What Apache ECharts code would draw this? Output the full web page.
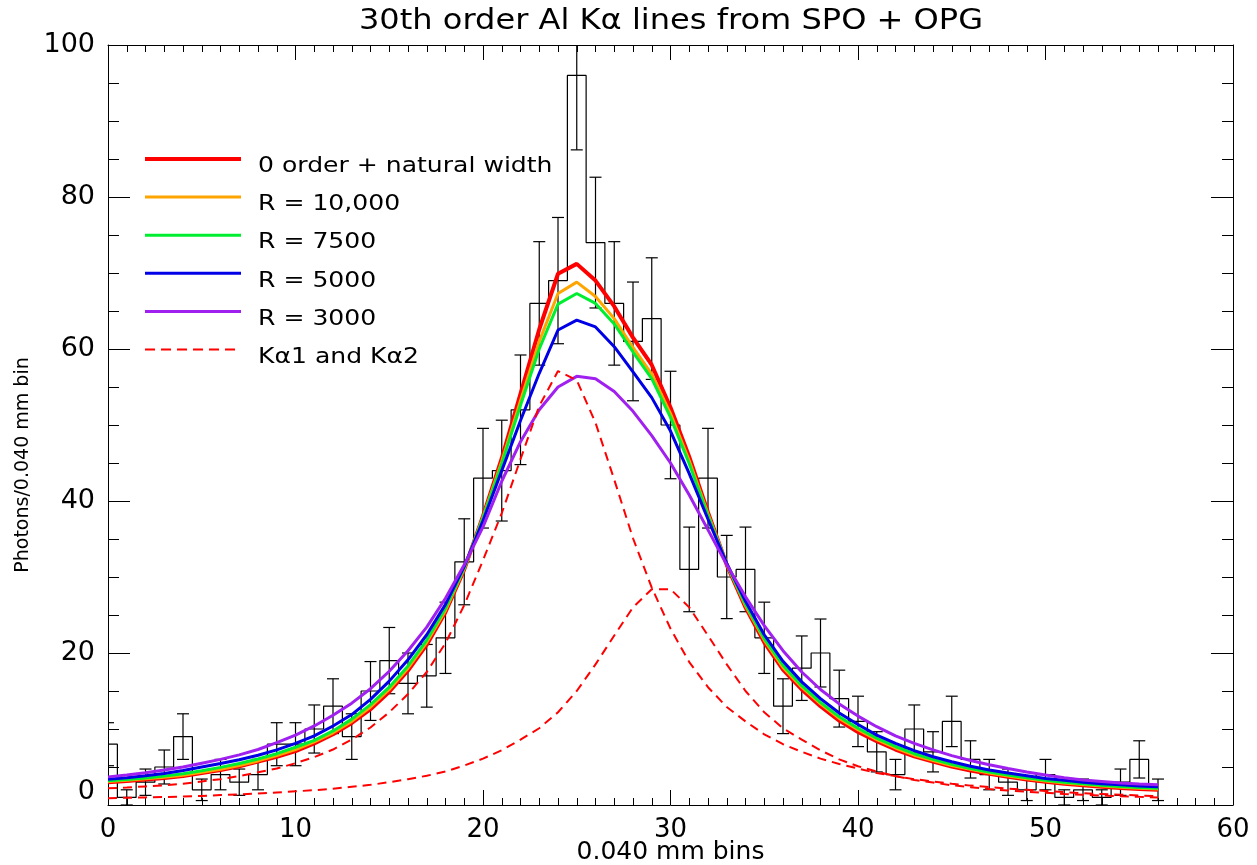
<!DOCTYPE html>
<html><head><meta charset="utf-8">
<script src="https://cdn.jsdelivr.net/npm/echarts@6/dist/echarts.min.js"></script>
<style>html,body{margin:0;padding:0;background:#fff}#c{width:1257px;height:865px}</style>
</head><body><div id="c"></div>
<script>
// ---- data ----
const bins = [0,1,2,3,4,5,6,7,8,9,10,11,12,13,14,15,16,17,18,19,20,21,22,23,24,25,26,27,28,29,30,31,32,33,34,35,36,37,38,39,40,41,42,43,44,45,46,47,48,49,50,51,52,53,54,55,56];
const counts = [8,1,3,5,9,2,4,3,4,8,8,10,13,9,15,19,16,17,22,32,43,44,52,66,69,96,74,66,61,64,50,31,43,30,31,22,13,18,20,14,11,7,4,10,7,11,6,4,3,2,4,1,2,1,3,6,2];
const zeroOrder = [3.0,3.15,3.35,3.55,3.8,4.2,4.6,5.1,5.7,6.35,7.1,8.1,9.3,10.8,12.6,14.9,17.7,21.1,25.4,31.0,38.0,45.6,54.1,62.6,69.9,71.2,69.0,65.6,61.5,57.9,52.3,45.8,38.5,31.6,26.0,21.4,17.8,15.2,13.0,11.1,9.6,8.4,7.3,6.4,5.7,5.05,4.55,4.1,3.7,3.35,3.05,2.8,2.6,2.4,2.25,2.1,2.0];
const r10000 = [3.1,3.25,3.45,3.65,3.9,4.3,4.7,5.2,5.8,6.5,7.3,8.3,9.5,11.0,12.9,15.2,18.0,21.4,25.6,31.1,37.9,45.2,53.2,61.0,67.3,68.8,66.9,64.0,60.2,56.7,51.5,45.3,38.3,31.7,26.2,21.7,18.1,15.5,13.3,11.4,9.9,8.6,7.5,6.55,5.85,5.2,4.7,4.2,3.8,3.45,3.15,2.9,2.7,2.5,2.35,2.2,2.1];
const r7500 = [3.2,3.35,3.55,3.8,4.1,4.5,4.95,5.45,6.05,6.75,7.6,8.5,9.75,11.3,13.2,15.5,18.3,21.7,25.9,31.2,37.8,44.9,52.6,60.0,65.9,67.3,66.0,63.3,59.6,56.1,51.0,44.9,38.1,31.7,26.4,21.9,18.4,15.7,13.5,11.6,10.1,8.8,7.7,6.75,6.0,5.35,4.8,4.35,3.95,3.6,3.25,3.0,2.8,2.6,2.45,2.3,2.2];
const r5000 = [3.4,3.6,3.85,4.15,4.55,5.0,5.45,5.95,6.55,7.25,8.1,9.1,10.4,11.9,13.9,16.3,19.1,22.4,26.4,31.4,37.4,44.0,50.6,56.8,62.5,63.8,62.9,60.3,57.0,53.6,49.2,43.6,37.6,31.8,26.8,22.4,18.9,16.2,14.0,12.1,10.6,9.2,8.1,7.15,6.35,5.7,5.1,4.6,4.2,3.85,3.5,3.25,3.0,2.8,2.65,2.5,2.4];
const r3000 = [3.7,3.95,4.25,4.6,5.0,5.5,6.0,6.6,7.3,8.2,9.2,10.4,11.8,13.4,15.3,17.6,20.3,23.4,27.2,31.6,36.6,42.6,47.8,52.0,55.0,56.4,56.1,54.4,51.8,48.6,45.0,40.8,36.2,31.6,27.4,23.6,20.3,17.5,15.2,13.3,11.7,10.3,9.1,8.1,7.25,6.5,5.85,5.3,4.8,4.35,3.95,3.6,3.3,3.1,2.9,2.75,2.65];
const ka1 = [2.2,2.3,2.45,2.6,2.8,3.1,3.4,3.8,4.3,4.8,5.5,6.3,7.3,8.6,10.2,12.2,14.6,17.5,21.3,26.3,32.2,38.4,45.5,52.5,57.1,55.9,50.3,42.8,35.1,28.6,23.2,18.8,15.5,12.9,11.0,9.3,8.0,7.0,6.1,5.4,4.8,4.2,3.8,3.4,3.1,2.8,2.55,2.35,2.15,2.0,1.85,1.7,1.55,1.45,1.35,1.25,1.15];
const ka2 = [0.9,0.95,1.0,1.05,1.12,1.2,1.3,1.4,1.5,1.65,1.8,1.95,2.15,2.4,2.65,3.0,3.4,3.85,4.4,5.2,6.1,7.2,8.6,10.1,12.2,15.0,18.5,22.3,26.0,28.4,28.4,26.0,22.3,18.5,15.0,12.2,10.1,8.6,7.2,6.0,5.1,4.4,3.8,3.3,2.95,2.6,2.35,2.1,1.9,1.75,1.6,1.45,1.35,1.25,1.15,1.07,1.0];
const xTicks = [0,10,20,30,40,50,60];
const yTicks = [0,20,40,60,80,100];
const titleText = '30th order Al K\u03b1 lines from SPO + OPG';
const legendNames = ['0 order + natural width','R = 10,000','R = 7500','R = 5000','R = 3000','K\u03b11 and K\u03b12'];
const colors = ['#ff0000','#ffa500','#00ee30','#0000e6','#a020f0','#ff0000'];

// ---- build ----
const pair = arr => bins.map((b,i)=>[b,arr[i]]);
const errData = bins.map((b,i)=>[b, counts[i]-Math.sqrt(counts[i]), counts[i]+Math.sqrt(counts[i])]);
const FONT = 'DejaVu Sans';

const chart = echarts.init(document.getElementById('c'), null, {renderer:'canvas'});
const axisCommon = {
  type:'value', min:0, splitLine:{show:false},
  axisLine:{show:true, onZero:false, lineStyle:{color:'#000', width:1}}
};
const series = [
  {name:'counts', type:'line', step:'middle', data:pair(counts), symbol:'none', lineStyle:{color:'#000', width:1.2}, z:2, silent:true},
  {name:'err', type:'custom', data:errData, clip:true, z:2, silent:true,
   renderItem(params, api){
     const x=api.value(0), lo=api.value(1), hi=api.value(2);
     const p1=api.coord([x,hi]), p2=api.coord([x,lo]); const hw=6;
     const st={stroke:'#000', lineWidth:1.2};
     return {type:'group', children:[
       {type:'line', shape:{x1:p1[0],y1:p1[1],x2:p2[0],y2:p2[1]}, style:st},
       {type:'line', shape:{x1:p1[0]-hw,y1:p1[1],x2:p1[0]+hw,y2:p1[1]}, style:st},
       {type:'line', shape:{x1:p2[0]-hw,y1:p2[1],x2:p2[0]+hw,y2:p2[1]}, style:st}
     ]};
   }},
];
const solid = [zeroOrder, r10000, r7500, r5000, r3000];
const widths = [4,3,3,3,3];
solid.forEach((arr,k)=>series.push({name:legendNames[k], type:'line', data:pair(arr), symbol:'none', lineStyle:{color:colors[k], width:widths[k]}, z:3+k, silent:true}));
[ka1, ka2].forEach((arr,k)=>series.push({name:k?'Ka2':'Ka1', type:'line', data:pair(arr), symbol:'none', lineStyle:{color:'#ff0000', width:2, type:[9,6]}, z:9, silent:true}));

// title and legend drawn as graphic text / lines
const graphics = [
  {type:'text', x:671, y:22, scaleX:1.145, originX:0, originY:0,
   style:{text:titleText, font:'28px "DejaVu Sans"', fill:'#000', textAlign:'center', textVerticalAlign:'middle'}, z:20}
];
legendNames.forEach((n,i)=>{
  const y = 159 + 38.1*i;
  graphics.push({type:'line', x:145, y:y, shape:{x1:0,y1:0,x2:96,y2:0},
    style:{stroke:colors[i], lineWidth:i===0?4:(i===5?2:3), lineDash:i===5?[10,6]:null}, z:20});
  graphics.push({type:'text', x:258, y:y+7.5, scaleX:1.14, originX:0, originY:0,
    style:{text:n, font:'22px "DejaVu Sans"', fill:'#000', textVerticalAlign:'middle', textAlign:'left'}, z:20});
});

chart.setOption({
  animation:false,
  backgroundColor:'#fff',
  grid:{left:108, right:24, top:45, bottom:60, containLabel:false, outerBoundsMode:'none'},
  xAxis:[
    Object.assign({}, axisCommon, {max:60, interval:10, position:'bottom',
      name:'0.040 mm bins', nameLocation:'middle', nameGap:35, nameMoveOverlap:false,
      nameTextStyle:{fontFamily:FONT, fontSize:25, color:'#000'},
      axisTick:{inside:true, length:15, lineStyle:{color:'#000'}},
      minorTick:{show:true, splitNumber:10, length:7, lineStyle:{color:'#000'}},
      axisLabel:{fontFamily:FONT, fontSize:26, color:'#000', margin:12}}),
    Object.assign({}, axisCommon, {max:60, interval:10, position:'top',
      axisTick:{inside:true, length:15, lineStyle:{color:'#000'}},
      minorTick:{show:true, splitNumber:10, length:7, lineStyle:{color:'#000'}},
      axisLabel:{show:false}})
  ],
  yAxis:[
    Object.assign({}, axisCommon, {max:100, interval:20, position:'left',
      name:'Photons/0.040 mm bin', nameLocation:'middle', nameGap:74, nameRotate:90,
      nameTextStyle:{fontFamily:FONT, fontSize:19, color:'#000', padding:[0,80,0,0]},
      axisTick:{inside:true, length:22, lineStyle:{color:'#000'}},
      minorTick:{show:true, splitNumber:4, length:11, lineStyle:{color:'#000'}},
      axisLabel:{fontFamily:FONT, fontSize:27, color:'#000', margin:13, verticalAlignMinLabel:'bottom'}}),
    Object.assign({}, axisCommon, {max:100, interval:20, position:'right',
      axisTick:{inside:true, length:22, lineStyle:{color:'#000'}},
      minorTick:{show:true, splitNumber:4, length:11, lineStyle:{color:'#000'}},
      axisLabel:{show:false}})
  ],
  series: series,
  graphic: graphics
});
</script></body></html>
